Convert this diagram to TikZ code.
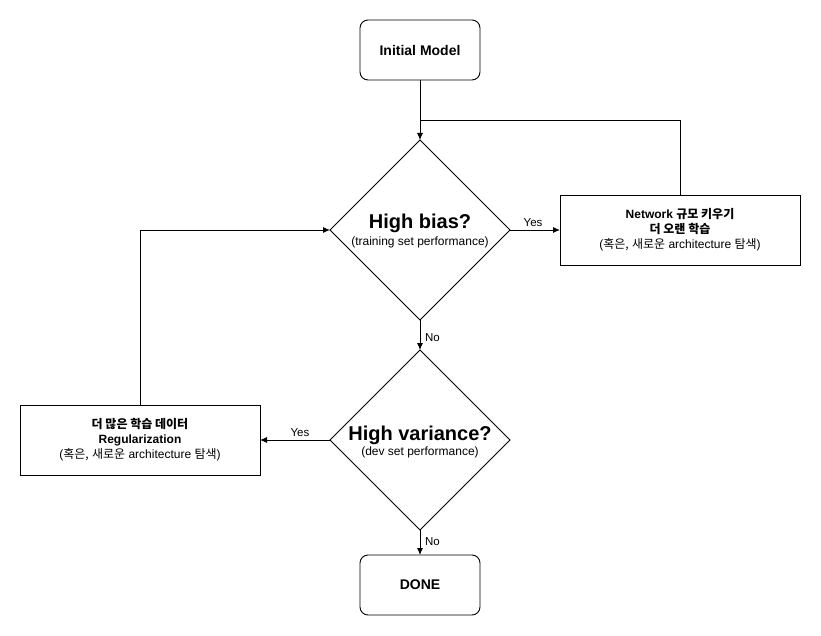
\documentclass[tikz,border=0pt]{standalone}
\usepackage{fontspec}
\setmainfont{Liberation Sans}
\newfontfamily\kr{Noto Sans CJK KR}
\usetikzlibrary{shapes.geometric,arrows.meta}
\begin{document}
\begin{tikzpicture}[x=1pt,y=-1pt,
  every node/.style={inner sep=0pt, outer sep=0pt},
  line/.style={draw=black, line width=0.9pt},
  arrb/.style={line, -{Latex[length=7pt,width=6pt]}},
  termbox/.style={draw, line width=0.9pt, rounded corners=8pt, minimum width=120pt, minimum height=60pt, align=center, font=\fontsize{14}{16}\selectfont\bfseries},
  actbox/.style={draw, line width=0.9pt, minimum width=240pt, minimum height=70pt, align=center, font=\fontsize{12}{15}\selectfont},
  decision/.style={draw, line width=0.9pt, diamond, minimum width=180pt, minimum height=180pt, aspect=1, align=center},
  lbl/.style={font=\fontsize{11.5}{13}\selectfont, fill=white, inner sep=1pt}
]
\useasboundingbox (0,0) rectangle (821,636);
\node[termbox] (init) at (420,50) {Initial Model};
\node[decision] (bias) at (420,230) {};
\node[align=center] at (420,231) {{\fontsize{20}{22}\selectfont\bfseries High bias?}\\[3pt]{\fontsize{12}{13}\selectfont (training set performance)}};
\node[actbox] (net) at (680,230) {\textbf{Network {\kr 규모 키우기}}\\\textbf{{\kr 더 오랜 학습}}\\({\kr 혹은,} {\kr 새로운} architecture {\kr 탐색})};
\node[decision] (var) at (420,440) {};
\node[align=center] at (420,442) {{\fontsize{20}{22}\selectfont\bfseries High variance?}\\[2pt]{\fontsize{12}{13}\selectfont (dev set performance)}};
\node[actbox] (data) at (140,440) {\textbf{{\kr 더 많은 학습 데이터}}\\\textbf{Regularization}\\({\kr 혹은,} {\kr 새로운} architecture {\kr 탐색})};
\node[termbox] (done) at (420,585) {DONE};
\coordinate (join) at (420,120);

\draw[arrb] (init.south) -- (bias.north);
\draw[line] (net.north) |- (join);
\draw[arrb] (bias.east) -- node[lbl, above=2pt, pos=0.46] {Yes} (net.west);
\draw[arrb] (bias.south) -- node[lbl, right=4pt, pos=0.57] {No} (var.north);
\draw[arrb] (var.west) -- node[lbl, above=2pt, pos=0.43] {Yes} (data.east);
\draw[arrb] (var.south) -- node[lbl, right=4pt, pos=0.48] {No} (done.north);
\draw[arrb] (data.north) |- (bias.west);
\end{tikzpicture}
\end{document}
